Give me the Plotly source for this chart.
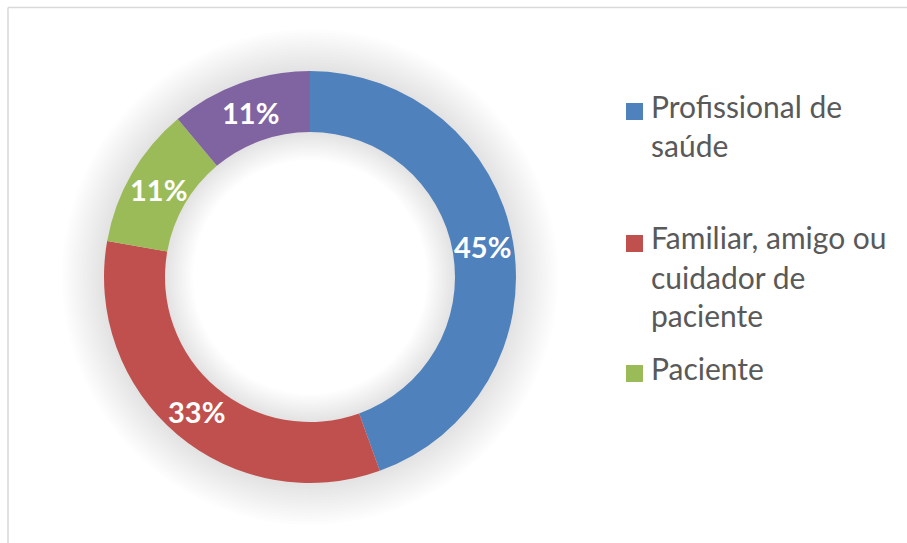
import math
import plotly.graph_objects as go

# ---- data ----
labels = ["Profissional de saúde", "Familiar, amigo ou cuidador de paciente", "Paciente", "Outro"]
values = [44.5, 33.3, 11.1, 11.1]
colors = ["#4F81BD", "#C0504D", "#9BBB59", "#8064A2"]
legend_lines = [["Profissional de", "saúde"], ["Familiar, amigo ou", "cuidador de", "paciente"], ["Paciente"]]

W, H = 907, 543
CX, CY, R_OUT, R_IN = 310, 277, 206, 145


def dom(r):
    return dict(x=[(CX - r) / W, (CX + r) / W], y=[1 - (CY + r) / H, 1 - (CY - r) / H])


fig = go.Figure()

# soft shadow rings behind the donut
N = 14
for k in range(N, 0, -1):
    ro = R_OUT + k * 3.0
    ri = max(R_IN - k * 2.0, 1)
    fig.add_trace(go.Pie(
        values=[1], labels=["s"], domain=dom(ro), hole=ri / ro, sort=False,
        marker=dict(colors=["rgba(0,0,0,0.0075)"], line=dict(width=0)),
        textinfo="none", hoverinfo="skip", showlegend=False,
    ))

fig.add_trace(go.Pie(
    labels=labels, values=values, sort=False, direction="clockwise", rotation=0,
    hole=R_IN / R_OUT, domain=dom(R_OUT),
    marker=dict(colors=colors, line=dict(color="white", width=0)),
    textinfo="none", showlegend=False, hoverinfo="label+percent",
))

annotations = []
shapes = []

# slice percentage labels at the middle of each ring segment
total = sum(values)
cum = 0
r_mid = (R_OUT + R_IN) / 2
for v in values:
    ang = math.radians(360 * (cum + v / 2) / total)
    cum += v
    x = CX + r_mid * math.sin(ang)
    y = CY - r_mid * math.cos(ang)
    pct = int(math.floor(100 * v / total + 0.5))
    annotations.append(dict(text=f"{pct}%", xref="paper", yref="paper",
                            x=x / W, y=1 - y / H, xanchor="center", yanchor="middle", showarrow=False,
                            font=dict(family="Lato", size=29, color="white", weight="bold")))

# legend drawn as squares + text lines
baselines = [[116, 155], [248, 287, 325], [378]]
FS = 30
for i, lines in enumerate(legend_lines):
    b0 = baselines[i][0]
    shapes.append(dict(type="rect", xref="paper", yref="paper",
                       x0=626 / W, x1=643 / W, y0=1 - (b0 + 4) / H, y1=1 - (b0 - 13) / H,
                       fillcolor=colors[i], line=dict(width=0)))
    for j, t in enumerate(lines):
        b = baselines[i][j]
        annotations.append(dict(text=t, xref="paper", yref="paper", x=649 / W, y=1 - (b - 10.5) / H,
                                xanchor="left", yanchor="middle", showarrow=False,
                                font=dict(family="Lato", size=FS, color="#595959")))

# chart border (partially visible)
shapes.append(dict(type="line", xref="paper", yref="paper", x0=8 / W, x1=1.01, y0=1 - 7.5 / H, y1=1 - 7.5 / H,
                   line=dict(color="#D9D9D9", width=1.5)))
shapes.append(dict(type="line", xref="paper", yref="paper", x0=8 / W, x1=8 / W, y0=1 - 7.5 / H, y1=-0.01,
                   line=dict(color="#D9D9D9", width=1.5)))

fig.update_layout(
    width=W, height=H, margin=dict(l=0, r=0, t=0, b=0),
    paper_bgcolor="white", plot_bgcolor="white",
    annotations=annotations, shapes=shapes, showlegend=False,
)

fig.write_html("out.html", config={"displayModeBar": False},
               post_script="document.body.style.margin='0';")
